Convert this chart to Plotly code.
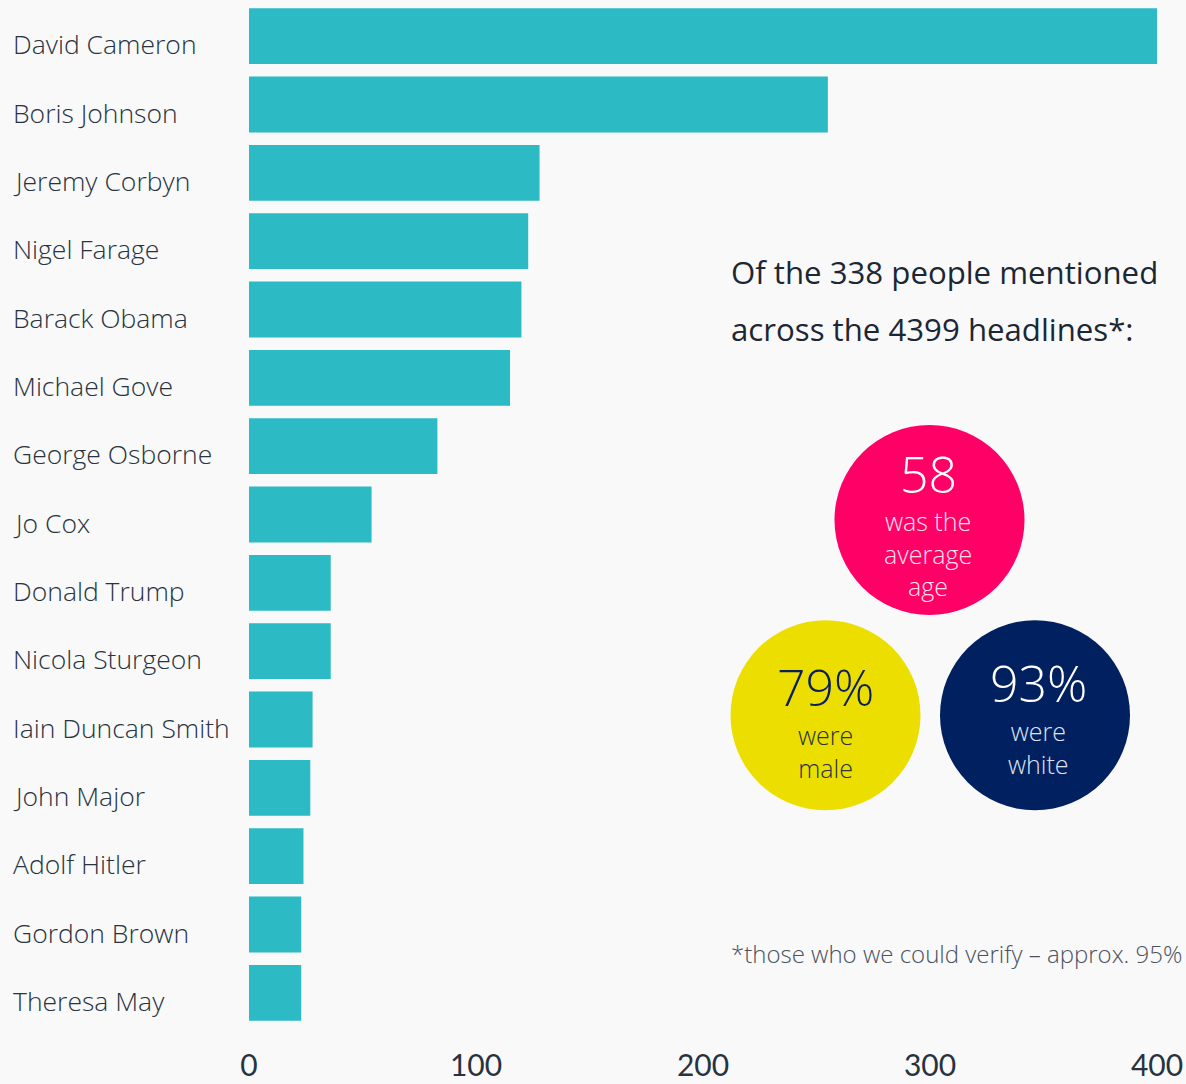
import plotly.graph_objects as go

names = ["David Cameron", "Boris Johnson", "Jeremy Corbyn", "Nigel Farage", "Barack Obama",
         "Michael Gove", "George Osborne", "Jo Cox", "Donald Trump", "Nicola Sturgeon",
         "Iain Duncan Smith", "John Major", "Adolf Hitler", "Gordon Brown", "Theresa May"]
mentions = [400, 255, 128, 123, 120, 115, 83, 54, 36, 36, 28, 27, 24, 23, 23]
x_ticks = [0, 100, 200, 300, 400]

W, H = 1186, 1084
ML, MR, MT, MB = 249, 29, 2, 53
PW = W - ML - MR
PH = H - MT - MB

def px(xi):
    return (xi - ML) / PW

def py(yi):
    return (H - MB - yi) / PH

BG = "#f9f9f9"
TEXT = "#283340"

fig = go.Figure()
fig.add_trace(go.Bar(
    x=mentions, y=list(range(len(names))), orientation="h",
    marker=dict(color="#2cbac4", line=dict(width=0)),
    hovertext=names, hoverinfo="x+text",
))

annotations = []
for i, n in enumerate(names):
    annotations.append(dict(
        x=0, xref="paper", xshift=-238, xanchor="left",
        y=i, yref="y", yanchor="middle", yshift=-8,
        text=n, showarrow=False,
        font=dict(family="Open Sans", size=26.5, color=TEXT, weight=300),
    ))

# Title text
for t, yy in [("Of the 338 people mentioned", 273), ("across the 4399 headlines*:", 330)]:
    annotations.append(dict(
        x=px(729), xref="paper", xanchor="left",
        y=py(yy), yref="paper", yanchor="middle",
        text=t, align="left", showarrow=False,
        font=dict(family="Open Sans", size=31.2, color="#1c2734"),
    ))
# Footnote
annotations.append(dict(
    x=px(729), xref="paper", xanchor="left",
    y=py(957), yref="paper", yanchor="middle",
    text="*those who we could verify – approx. 95%",
    showarrow=False,
    font=dict(family="Open Sans", size=24, color="#4a525e", weight=300),
))

circles = [
    dict(cx=929.5, cy=522, color="#ff0066", big="58", bigcol="#ffffff", big_y=476,
         small="was the<br>average<br>age", smallcol="#ffe0ec", small_y=556, bx=928),
    dict(cx=825.5, cy=718, color="#ecdf00", big="79%", bigcol="#0b1f5c", big_y=690,
         small="were<br>male", smallcol="#2a3344", small_y=754, bx=825),
    dict(cx=1035, cy=718, color="#012060", big="93%", bigcol="#ffffff", big_y=686,
         small="were<br>white", smallcol="#dfe3f0", small_y=750, bx=1038),
]
shapes = []
R = 95
for c in circles:
    shapes.append(dict(
        type="circle", xref="paper", yref="paper",
        xsizemode="pixel", ysizemode="pixel",
        xanchor=px(c["cx"]), yanchor=py(c["cy"]),
        x0=-R, x1=R, y0=-R, y1=R,
        fillcolor=c["color"], line=dict(width=0), layer="above",
    ))
    annotations.append(dict(
        x=px(c["bx"]), xref="paper", xanchor="center",
        y=py(c["big_y"]), yref="paper", yanchor="middle",
        text=c["big"], showarrow=False, height=44,
        font=dict(family="Open Sans", size=50, color=c["bigcol"], weight=300),
    ))
    annotations.append(dict(
        x=px(c["bx"]), xref="paper", xanchor="center",
        y=py(c["small_y"]), yref="paper", yanchor="middle",
        text=c["small"], showarrow=False, align="center",
        font=dict(family="Open Sans", size=25, color=c["smallcol"], weight=300),
    ))

fig.update_layout(
    width=W, height=H,
    margin=dict(l=ML, r=MR, t=MT, b=MB),
    paper_bgcolor=BG, plot_bgcolor=BG,
    bargap=0.184,
    showlegend=False,
    xaxis=dict(range=[0, 400], tickvals=x_ticks, showgrid=False, zeroline=False,
               showline=False, ticks="", ticklabelstandoff=18,
               tickfont=dict(family="Lato", size=30, color=TEXT)),
    yaxis=dict(range=[14.5, -0.5], showticklabels=False, showgrid=False,
               zeroline=False, showline=False, ticks=""),
    annotations=annotations,
    shapes=shapes,
)

fig.write_html(
    "out.html",
    config={"displayModeBar": False},
    post_script="document.body.style.margin='0';document.body.style.overflow='hidden';"
                "document.body.style.background='#f9f9f9';",
)
